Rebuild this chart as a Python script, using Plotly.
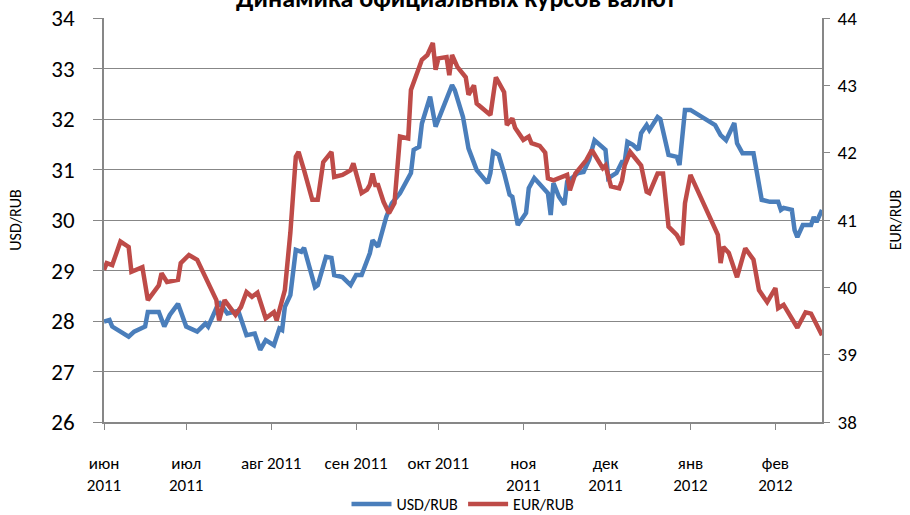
import plotly.graph_objects as go

title_text = "Динамика официальных курсов валют"

usd_dates = [
    "2011-06-01", "2011-06-03", "2011-06-04", "2011-06-08", "2011-06-10", "2011-06-12",
    "2011-06-16", "2011-06-17", "2011-06-21", "2011-06-23", "2011-06-25", "2011-06-28",
    "2011-07-01", "2011-07-05", "2011-07-08", "2011-07-09", "2011-07-13", "2011-07-16",
    "2011-07-20", "2011-07-23", "2011-07-26", "2011-07-28", "2011-07-30", "2011-08-02",
    "2011-08-04", "2011-08-05", "2011-08-06", "2011-08-08", "2011-08-10", "2011-08-12",
    "2011-08-13", "2011-08-17", "2011-08-18", "2011-08-21", "2011-08-23", "2011-08-24",
    "2011-08-27", "2011-08-30", "2011-09-01", "2011-09-03", "2011-09-06", "2011-09-07",
    "2011-09-09", "2011-09-12", "2011-09-14", "2011-09-17", "2011-09-21", "2011-09-22",
    "2011-09-24", "2011-09-25", "2011-09-28", "2011-09-30", "2011-10-01", "2011-10-06",
    "2011-10-07", "2011-10-09", "2011-10-10", "2011-10-12", "2011-10-15", "2011-10-19",
    "2011-10-20", "2011-10-21", "2011-10-23", "2011-10-25", "2011-10-27", "2011-10-28",
    "2011-10-30", "2011-11-02", "2011-11-03", "2011-11-05", "2011-11-10", "2011-11-11",
    "2011-11-12", "2011-11-14", "2011-11-16", "2011-11-17", "2011-11-21", "2011-11-23",
    "2011-11-25", "2011-11-27", "2011-11-30", "2011-12-01", "2011-12-02", "2011-12-05",
    "2011-12-07", "2011-12-08", "2011-12-09", "2011-12-11", "2011-12-13", "2011-12-14",
    "2011-12-16", "2011-12-17", "2011-12-20", "2011-12-21", "2011-12-24", "2011-12-27",
    "2011-12-28", "2011-12-30", "2012-01-01", "2012-01-10", "2012-01-12", "2012-01-14",
    "2012-01-17", "2012-01-18", "2012-01-20", "2012-01-24", "2012-01-27", "2012-01-30",
    "2012-02-02", "2012-02-03", "2012-02-04", "2012-02-07", "2012-02-08", "2012-02-09",
    "2012-02-11", "2012-02-14", "2012-02-15", "2012-02-16", "2012-02-18",
]
usd_values = [
    27.99, 28.02, 27.89, 27.76, 27.69, 27.79,
    27.89, 28.18, 28.18, 27.89, 28.12, 28.34,
    27.89, 27.79, 27.95, 27.89, 28.38, 28.15,
    28.20, 27.72, 27.75, 27.43, 27.62, 27.52,
    27.85, 27.82, 28.28, 28.51, 29.41, 29.37,
    29.45, 28.67, 28.71, 29.27, 29.25, 28.91,
    28.87, 28.71, 28.91, 28.91, 29.34, 29.60,
    29.47, 30.06, 30.33, 30.53, 30.93, 31.39,
    31.45, 31.91, 32.44, 31.85, 31.98, 32.67,
    32.57, 32.18, 32.04, 31.42, 30.99, 30.73,
    30.93, 31.35, 31.29, 30.93, 30.50, 30.46,
    29.90, 30.14, 30.63, 30.83, 30.53, 30.10,
    30.73, 30.46, 30.30, 30.76, 30.93, 30.95,
    31.19, 31.58, 31.42, 31.39, 30.83, 30.93,
    31.15, 31.15, 31.55, 31.49, 31.39, 31.72,
    31.88, 31.78, 32.04, 32.00, 31.29, 31.25,
    31.09, 32.18, 32.18, 31.88, 31.68, 31.58,
    31.92, 31.52, 31.32, 31.32, 30.40, 30.36,
    30.36, 30.20, 30.24, 30.20, 29.80, 29.66,
    29.90, 29.90, 30.06, 29.96, 30.20,
]

eur_dates = [
    "2011-06-01", "2011-06-02", "2011-06-04", "2011-06-07", "2011-06-10", "2011-06-11",
    "2011-06-15", "2011-06-17", "2011-06-21", "2011-06-22", "2011-06-24", "2011-06-28",
    "2011-06-29", "2011-07-02", "2011-07-05", "2011-07-09", "2011-07-12", "2011-07-13",
    "2011-07-15", "2011-07-19", "2011-07-21", "2011-07-23", "2011-07-25", "2011-07-27",
    "2011-07-30", "2011-08-02", "2011-08-03", "2011-08-06", "2011-08-08", "2011-08-10",
    "2011-08-11", "2011-08-13", "2011-08-16", "2011-08-18", "2011-08-20", "2011-08-23",
    "2011-08-24", "2011-08-27", "2011-08-30", "2011-08-31", "2011-09-03", "2011-09-05",
    "2011-09-06", "2011-09-07", "2011-09-08", "2011-09-09", "2011-09-11", "2011-09-13",
    "2011-09-15", "2011-09-17", "2011-09-20", "2011-09-21", "2011-09-24", "2011-09-25",
    "2011-09-27", "2011-09-29", "2011-09-30", "2011-10-01", "2011-10-04", "2011-10-05",
    "2011-10-06", "2011-10-08", "2011-10-11", "2011-10-12", "2011-10-14", "2011-10-15",
    "2011-10-20", "2011-10-22", "2011-10-25", "2011-10-26", "2011-10-28", "2011-10-29",
    "2011-11-01", "2011-11-03", "2011-11-04", "2011-11-07", "2011-11-09", "2011-11-10",
    "2011-11-12", "2011-11-17", "2011-11-18", "2011-11-20", "2011-11-24", "2011-11-26",
    "2011-11-30", "2011-12-01", "2011-12-03", "2011-12-06", "2011-12-07", "2011-12-08",
    "2011-12-10", "2011-12-13", "2011-12-14", "2011-12-16", "2011-12-17", "2011-12-20",
    "2011-12-22", "2011-12-24", "2011-12-27", "2011-12-29", "2011-12-30", "2012-01-01",
    "2012-01-11", "2012-01-12", "2012-01-13", "2012-01-15", "2012-01-18", "2012-01-21",
    "2012-01-24", "2012-01-26", "2012-01-29", "2012-02-01", "2012-02-02", "2012-02-04",
    "2012-02-09", "2012-02-12", "2012-02-14", "2012-02-18",
]
eur_values = [
    40.26, 40.36, 40.33, 40.68, 40.60, 40.23,
    40.30, 39.81, 40.03, 40.21, 40.08, 40.11,
    40.36, 40.48, 40.41, 40.06, 39.81, 39.51,
    39.81, 39.59, 39.71, 39.93, 39.86, 39.92,
    39.54, 39.63, 39.51, 39.96, 40.81, 41.94,
    42.01, 41.74, 41.30, 41.30, 41.86, 42.01,
    41.64, 41.67, 41.74, 41.84, 41.40, 41.45,
    41.52, 41.69, 41.52, 41.52, 41.27, 41.10,
    41.25, 42.24, 42.21, 42.93, 43.30, 43.38,
    43.45, 43.63, 43.23, 43.40, 43.42, 43.15,
    43.45, 43.27, 43.12, 42.86, 43.00, 42.73,
    42.56, 43.12, 42.90, 42.41, 42.51, 42.37,
    42.19, 42.24, 42.14, 42.10, 42.00, 41.62,
    41.59, 41.67, 41.44, 41.69, 41.89, 42.04,
    41.77, 41.81, 41.50, 41.47, 41.58, 41.81,
    42.01, 41.86, 41.81, 41.42, 41.40, 41.69,
    41.69, 40.90, 40.78, 40.63, 41.25, 41.67,
    40.78, 40.36, 40.60, 40.51, 40.15, 40.58,
    40.41, 39.96, 39.78, 39.99, 39.69, 39.74,
    39.40, 39.63, 39.61, 39.29,
]

month_ticks = [
    "2011-06-01", "2011-07-01", "2011-08-01", "2011-09-01", "2011-10-01",
    "2011-11-01", "2011-12-01", "2012-01-01", "2012-02-01",
]
month_labels = [
    "июн<br>2011", "июл<br>2011", "авг 2011", "сен 2011", "окт 2011",
    "ноя<br>2011", "дек<br>2011", "янв<br>2012", "фев<br>2012",
]
usd_ticks = [26, 27, 28, 29, 30, 31, 32, 33, 34]
eur_ticks = [38, 39, 40, 41, 42, 43, 44]

FONT = "Carlito, Calibri, Lato, sans-serif"
GRID = "#878787"

fig = go.Figure()
fig.add_trace(go.Scatter(
    x=usd_dates, y=usd_values, name="USD/RUB", mode="lines",
    line=dict(color="#4A7EBB", width=4.5), yaxis="y",
))
fig.add_trace(go.Scatter(
    x=eur_dates, y=eur_values, name="EUR/RUB", mode="lines",
    line=dict(color="#BE4B48", width=4.5), yaxis="y2",
))

fig.update_layout(
    width=910, height=515,
    margin=dict(l=104, r=88, t=18, b=93, autoexpand=False),
    paper_bgcolor="white", plot_bgcolor="white",
    font=dict(family=FONT, color="black"),
    showlegend=True,
    legend=dict(
        orientation="h", x=0.5, xanchor="center", y=-0.203, yanchor="middle",
        font=dict(size=16, family=FONT), bgcolor="rgba(0,0,0,0)",
        itemwidth=40, tracegroupgap=0,
    ),
    xaxis=dict(
        type="date", range=["2011-06-01", "2012-02-18"],
        tickvals=month_ticks, ticktext=month_labels,
        ticks="outside", ticklen=6, tickcolor=GRID, tickwidth=1.3,
        showline=True, linecolor=GRID, linewidth=1.5,
        showgrid=False, zeroline=False,
        tickfont=dict(size=17, family=FONT),
        ticklabelstandoff=19, ticklabeloverflow="allow",
    ),
    yaxis=dict(
        range=[26, 34], tickvals=usd_ticks,
        ticks="outside", ticklen=9, tickcolor=GRID, tickwidth=1.3,
        showline=True, linecolor=GRID, linewidth=1.5,
        showgrid=True, gridcolor=GRID, gridwidth=1.3, zeroline=False,
        tickfont=dict(size=23, family=FONT),
        ticklabelstandoff=14, ticklabeloverflow="allow",
        title=dict(text="USD/RUB", font=dict(size=16, family=FONT), standoff=26),
    ),
    yaxis2=dict(
        range=[38, 44], tickvals=eur_ticks, overlaying="y", side="right",
        ticks="outside", ticklen=6, tickcolor=GRID, tickwidth=1.3,
        showline=True, linecolor=GRID, linewidth=1.5,
        showgrid=False, zeroline=False,
        tickfont=dict(size=19, family=FONT),
        ticklabelstandoff=4, ticklabeloverflow="allow",
        title=dict(text="EUR/RUB", font=dict(size=16, family=FONT), standoff=34),
    ),
    annotations=[dict(
        text="<b>" + title_text + "</b>", xref="paper", yref="paper",
        x=0.49, y=1.0495, xanchor="center", yanchor="middle", showarrow=False,
        font=dict(size=26, family=FONT, color="black"),
    )],
)

fig.write_html(
    "out.html",
    config={"displayModeBar": False},
    post_script="document.body.style.margin='0px';",
)
